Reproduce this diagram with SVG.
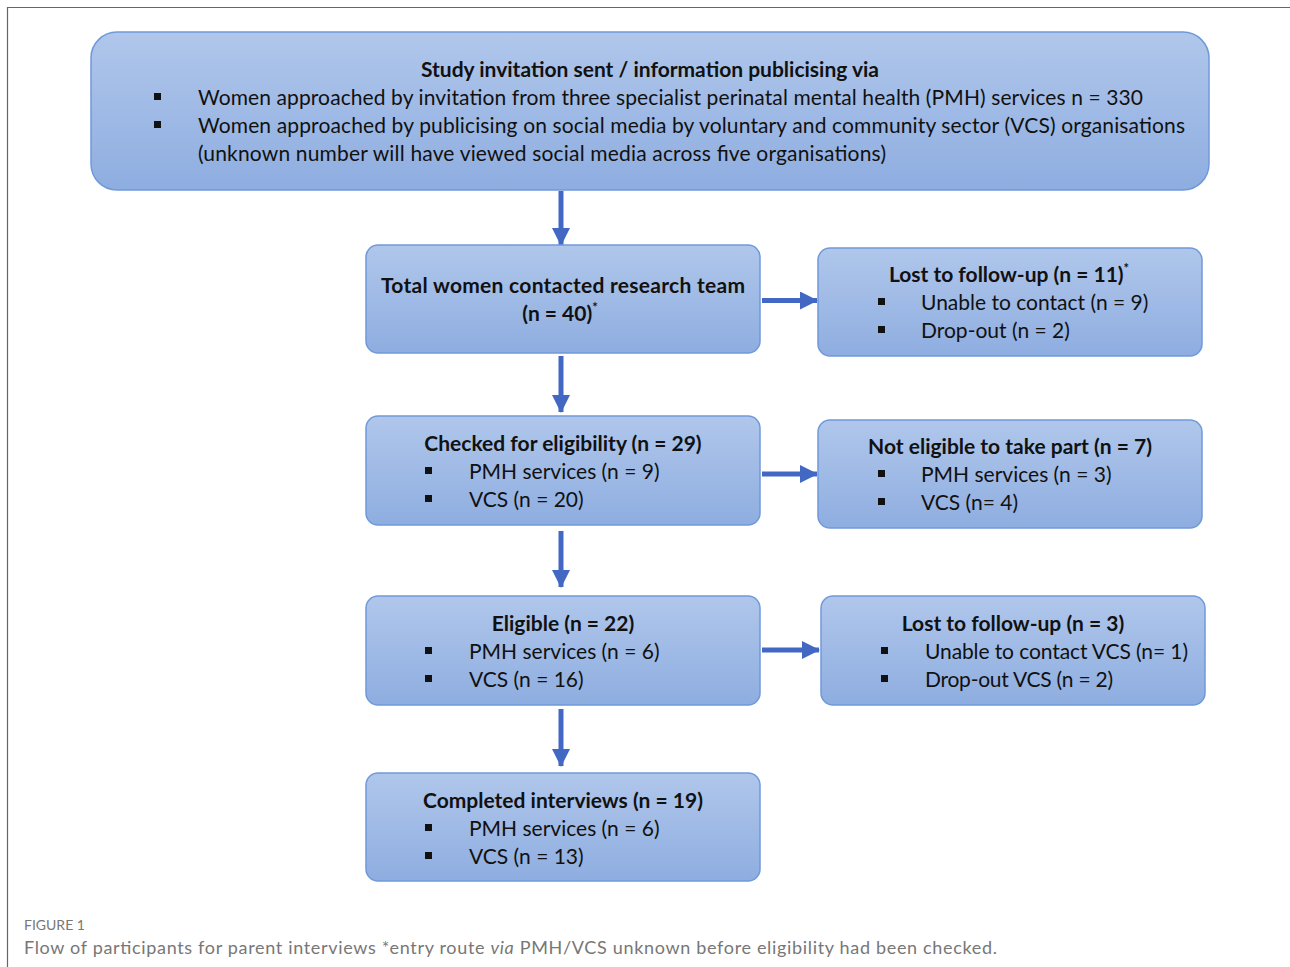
<svg xmlns="http://www.w3.org/2000/svg" width="1290" height="967" viewBox="0 0 1290 967">
<defs>
<linearGradient id="g" x1="0" y1="0" x2="0" y2="1">
<stop offset="0" stop-color="#b0c7eb"/>
<stop offset="1" stop-color="#8eade0"/>
</linearGradient>
<marker id="ah" markerWidth="3.6" markerHeight="3.6" refX="3.4" refY="1.8" orient="auto" markerUnits="strokeWidth">
<path d="M0,0 L3.6,1.8 L0,3.6 z" fill="#4368c3"/>
</marker>
</defs>
<style>
.box{fill:url(#g);stroke:#7099da;stroke-width:1.5}
text{font-family:Lato,"Open Sans",sans-serif;fill:#111;font-size:21px}
.t{font-weight:bold;text-anchor:middle}
.c{stroke:#4368c3;stroke-width:5;fill:none;marker-end:url(#ah)}
.bul{fill:#111}
.cap{fill:#777;font-size:18px}
.fig{fill:#777;font-size:14px}
</style>
<rect x="0" y="0" width="1290" height="967" fill="#fff"/>
<path d="M7.5,967 L7.5,7.5 L1290,7.5" fill="none" stroke="#666" stroke-width="1.2"/>

<g id="connectors">
<line class="c" x1="561" y1="191" x2="561" y2="245"/>
<line class="c" x1="561" y1="356" x2="561" y2="412"/>
<line class="c" x1="561" y1="531" x2="561" y2="587"/>
<line class="c" x1="561" y1="709" x2="561" y2="766"/>
<line class="c" x1="762" y1="300.5" x2="817" y2="300.5"/>
<line class="c" x1="762" y1="474" x2="817" y2="474"/>
<line class="c" x1="762" y1="650" x2="819" y2="650"/>
</g>

<g id="n1">
<rect class="box" x="91" y="32" width="1118" height="158" rx="26"/>
<text class="t" x="650" y="77">Study invitation sent / information publicising via</text>
<rect class="bul" x="154" y="93" width="7" height="7"/>
<rect class="bul" x="154" y="121" width="7" height="7"/>
<text x="198" y="105" textLength="945">Women approached by invitation from three specialist perinatal mental health (PMH) services n = 330</text>
<text x="198" y="133" textLength="987">Women approached by publicising on social media by voluntary and community sector (VCS) organisations</text>
<text x="198" y="161" textLength="688">(unknown number will have viewed social media across five organisations)</text>
</g>

<g id="n2">
<rect class="box" x="366" y="245" width="394" height="108" rx="12"/>
<text class="t" x="563" y="293" textLength="364">Total women contacted research team</text>
<text class="t" x="560" y="321">(n = 40)<tspan font-size="13" dy="-9">*</tspan></text>
</g>

<g id="n3">
<rect class="box" x="818" y="248" width="384" height="108" rx="12"/>
<text class="t" x="1009" y="282">Lost to follow-up (n = 11)<tspan font-size="13" dy="-9">*</tspan></text>
<rect class="bul" x="878" y="298" width="7" height="7"/>
<rect class="bul" x="878" y="326" width="7" height="7"/>
<text x="921" y="310">Unable to contact (n = 9)</text>
<text x="921" y="338">Drop-out (n = 2)</text>
</g>

<g id="n4">
<rect class="box" x="366" y="416" width="394" height="109" rx="12"/>
<text class="t" x="563" y="451">Checked for eligibility (n = 29)</text>
<rect class="bul" x="425" y="467" width="7" height="7"/>
<rect class="bul" x="425" y="495" width="7" height="7"/>
<text x="469" y="479">PMH services (n = 9)</text>
<text x="469" y="507">VCS (n = 20)</text>
</g>

<g id="n5">
<rect class="box" x="818" y="420" width="384" height="108" rx="12"/>
<text class="t" x="1010" y="454">Not eligible to take part (n = 7)</text>
<rect class="bul" x="878" y="470" width="7" height="7"/>
<rect class="bul" x="878" y="498" width="7" height="7"/>
<text x="921" y="482">PMH services (n = 3)</text>
<text x="921" y="510">VCS (n= 4)</text>
</g>

<g id="n6">
<rect class="box" x="366" y="596" width="394" height="109" rx="12"/>
<text class="t" x="563" y="631">Eligible (n = 22)</text>
<rect class="bul" x="425" y="647" width="7" height="7"/>
<rect class="bul" x="425" y="675" width="7" height="7"/>
<text x="469" y="659">PMH services (n = 6)</text>
<text x="469" y="687">VCS (n = 16)</text>
</g>

<g id="n7">
<rect class="box" x="821" y="596" width="384" height="109" rx="12"/>
<text class="t" x="1013" y="631">Lost to follow-up (n = 3)</text>
<rect class="bul" x="881" y="647" width="7" height="7"/>
<rect class="bul" x="881" y="675" width="7" height="7"/>
<text x="925" y="659" textLength="263">Unable to contact VCS (n= 1)</text>
<text x="925" y="687" textLength="188">Drop-out VCS (n = 2)</text>
</g>

<g id="n8">
<rect class="box" x="366" y="773" width="394" height="108" rx="12"/>
<text class="t" x="563" y="808">Completed interviews (n = 19)</text>
<rect class="bul" x="425" y="824" width="7" height="7"/>
<rect class="bul" x="425" y="852" width="7" height="7"/>
<text x="469" y="836">PMH services (n = 6)</text>
<text x="469" y="864">VCS (n = 13)</text>
</g>

<text class="fig" x="24" y="930">FIGURE 1</text>
<text class="cap" x="24" y="954" textLength="973">Flow of participants for parent interviews *entry route <tspan font-style="italic">via</tspan> PMH/VCS unknown before eligibility had been checked.</text>
</svg>
